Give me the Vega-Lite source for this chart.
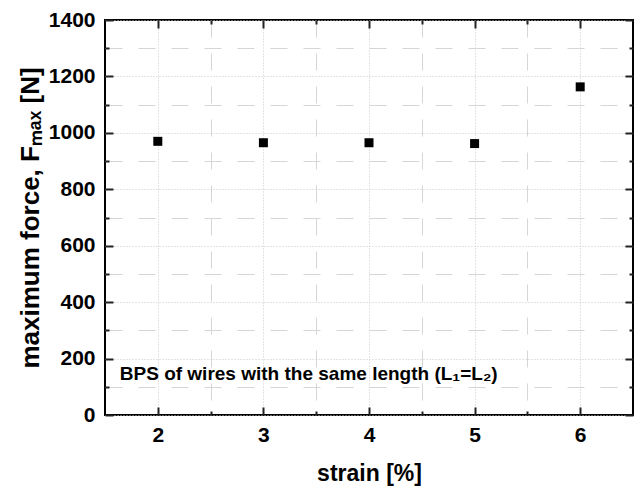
{
  "$schema": "https://vega.github.io/schema/vega-lite/v6.json",
  "width": 528,
  "height": 395,
  "autosize": {"type": "none"},
  "padding": {"left": 105, "top": 20, "right": 1, "bottom": 75},
  "background": "white",
  "config": {
    "view": {"stroke": "black", "strokeWidth": 2},
    "font": "Liberation Sans",
    "axis": {
      "labelFont": "Liberation Sans",
      "titleFont": "Liberation Sans",
      "labelColor": "black",
      "titleColor": "black",
      "tickColor": "#222222",
      "tickWidth": 2,
      "domain": false
    }
  },
  "datasets": {
    "pts": [
      {"strain": 2, "force": 970},
      {"strain": 3, "force": 965},
      {"strain": 4, "force": 965},
      {"strain": 5, "force": 962},
      {"strain": 6, "force": 1163}
    ],
    "note": [
      {"strain": 1.64, "force": 146, "label": "BPS of wires with the same length (L₁=L₂)"}
    ]
  },
  "resolve": {"axis": {"x": "independent", "y": "independent"}},
  "layer": [
    {
      "data": {"name": "pts"},
      "mark": {"type": "point", "opacity": 0},
      "encoding": {
        "x": {"field": "strain", "type": "quantitative", "scale": {"domain": [1.5, 6.5], "nice": false, "zero": false},
          "axis": {"orient": "bottom", "values": [2.5, 3.5, 4.5, 5.5], "labels": false, "ticks": false, "title": null,
            "grid": true, "gridColor": "#d6d6d6", "gridDash": [17, 16], "gridWidth": 1}},
        "y": {"field": "force", "type": "quantitative", "scale": {"domain": [0, 1400], "nice": false},
          "axis": {"orient": "left", "values": [100, 300, 500, 700, 900, 1100, 1300], "labels": false, "ticks": false, "title": null,
            "grid": true, "gridColor": "#d6d6d6", "gridDash": [17, 16], "gridWidth": 1}}
      }
    },
    {
      "data": {"name": "pts"},
      "mark": {"type": "point", "opacity": 0},
      "encoding": {
        "x": {"field": "strain", "type": "quantitative",
          "axis": {"orient": "bottom", "values": [2, 3, 4, 5, 6], "format": "d", "ticks": false,
            "labelFontSize": 21, "labelFontWeight": "bold", "labelPadding": 9,
            "title": "strain [%]", "titleFontSize": 23, "titleFontWeight": "bold", "titlePadding": 17,
            "grid": true, "gridColor": "#c8c8c8", "gridDash": [1, 2], "gridWidth": 1}},
        "y": {"field": "force", "type": "quantitative",
          "axis": {"orient": "left", "values": [0, 200, 400, 600, 800, 1000, 1200, 1400], "format": "d", "ticks": false,
            "labelFontSize": 21, "labelFontWeight": "bold", "labelPadding": 10,
            "title": "maximum force, Fₘₐₓ [N]", "titleFontSize": 26, "titleFontWeight": "bold", "titlePadding": 5,
            "grid": true, "gridColor": "#c8c8c8", "gridDash": [1, 2], "gridWidth": 1}}
      }
    },
    {
      "data": {"name": "pts"},
      "mark": {"type": "point", "opacity": 0},
      "encoding": {
        "x": {"field": "strain", "type": "quantitative",
          "axis": {"orient": "bottom", "offset": -8, "tickSize": 8, "values": [2, 3, 4, 5, 6], "labels": false, "title": null, "grid": false}},
        "y": {"field": "force", "type": "quantitative",
          "axis": {"orient": "left", "offset": -8, "tickSize": 8, "values": [0, 200, 400, 600, 800, 1000, 1200, 1400], "labels": false, "title": null, "grid": false}}
      }
    },
    {
      "data": {"name": "pts"},
      "mark": {"type": "point", "opacity": 0},
      "encoding": {
        "x": {"field": "strain", "type": "quantitative",
          "axis": {"orient": "bottom", "offset": -4, "tickSize": 4, "values": [2.5, 3.5, 4.5, 5.5], "labels": false, "title": null, "grid": false}},
        "y": {"field": "force", "type": "quantitative",
          "axis": {"orient": "left", "offset": -4, "tickSize": 4, "values": [100, 300, 500, 700, 900, 1100, 1300], "labels": false, "title": null, "grid": false}}
      }
    },
    {
      "data": {"name": "pts"},
      "mark": {"type": "point", "opacity": 0},
      "encoding": {
        "x": {"field": "strain", "type": "quantitative",
          "axis": {"orient": "top", "offset": -8, "tickSize": 8, "values": [2, 3, 4, 5, 6], "labels": false, "title": null, "grid": false}},
        "y": {"field": "force", "type": "quantitative",
          "axis": {"orient": "right", "offset": -8, "tickSize": 8, "values": [0, 200, 400, 600, 800, 1000, 1200, 1400], "labels": false, "title": null, "grid": false}}
      }
    },
    {
      "data": {"name": "pts"},
      "mark": {"type": "point", "opacity": 0},
      "encoding": {
        "x": {"field": "strain", "type": "quantitative",
          "axis": {"orient": "top", "offset": -4, "tickSize": 4, "values": [2.5, 3.5, 4.5, 5.5], "labels": false, "title": null, "grid": false}},
        "y": {"field": "force", "type": "quantitative",
          "axis": {"orient": "right", "offset": -4, "tickSize": 4, "values": [100, 300, 500, 700, 900, 1100, 1300], "labels": false, "title": null, "grid": false}}
      }
    },
    {
      "data": {"name": "pts"},
      "mark": {"type": "square", "size": 81, "color": "black", "opacity": 1},
      "encoding": {
        "x": {"field": "strain", "type": "quantitative", "axis": null},
        "y": {"field": "force", "type": "quantitative", "axis": null}
      }
    },
    {
      "data": {"name": "note"},
      "mark": {"type": "text", "align": "left", "baseline": "middle", "fontSize": 19, "fontWeight": "bold", "font": "Liberation Sans", "color": "black"},
      "encoding": {
        "x": {"field": "strain", "type": "quantitative", "axis": null},
        "y": {"field": "force", "type": "quantitative", "axis": null},
        "text": {"field": "label"}
      }
    }
  ]
}
